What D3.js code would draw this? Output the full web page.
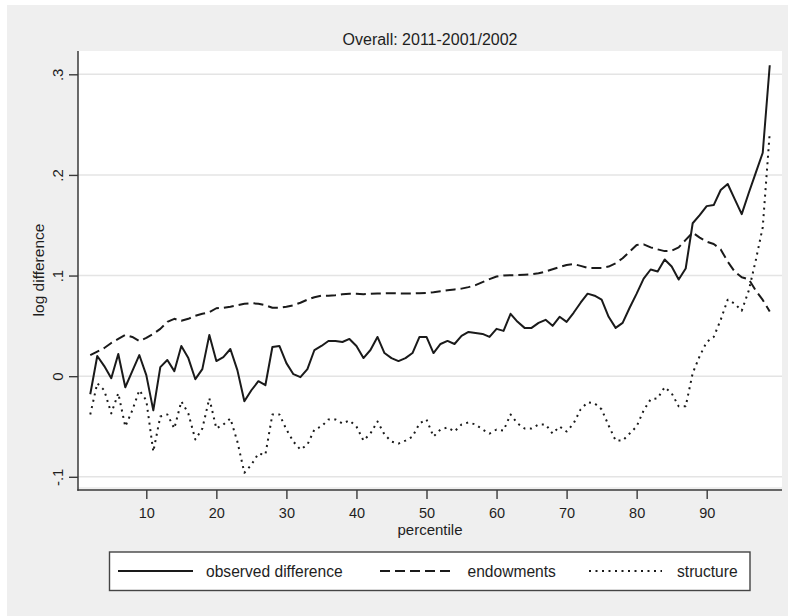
<!DOCTYPE html>
<html>
<head>
<meta charset="utf-8">
<script src="https://cdn.jsdelivr.net/npm/d3@7"></script>
<style>
  html, body { margin: 0; padding: 0; background: #ffffff; }
  svg { display: block; }
  text { font-family: "Liberation Sans", Arial, sans-serif; fill: #1e1e1e; }
</style>
</head>
<body>
<svg id="chart" width="788" height="616"></svg>
<script>
// Percentiles of the wage distribution
const percentiles = [2,3,4,5,6,7,8,9,10,11,12,13,14,15,16,17,18,19,20,21,22,23,24,25,26,27,28,29,30,
  31,32,33,34,35,36,37,38,39,40,41,42,43,44,45,46,47,48,49,50,51,52,53,54,55,56,57,58,59,60,
  61,62,63,64,65,66,67,68,69,70,71,72,73,74,75,76,77,78,79,80,81,82,83,84,85,86,87,88,89,90,
  91,92,93,94,95,96,97,98,99];

// Observed log difference at each percentile
const observed = [-0.018,0.020,0.010,-0.002,0.022,-0.011,0.005,0.021,0.001,-0.034,
  0.009,0.016,0.005,0.030,0.018,-0.003,0.007,0.041,0.015,0.019,
  0.027,0.006,-0.025,-0.014,-0.005,-0.009,0.029,0.030,0.013,0.002,
  -0.001,0.007,0.026,0.030,0.035,0.035,0.034,0.037,0.030,0.018,
  0.026,0.039,0.023,0.018,0.015,0.018,0.023,0.039,0.039,0.023,
  0.032,0.035,0.032,0.040,0.044,0.043,0.042,0.039,0.047,0.045,
  0.062,0.054,0.048,0.048,0.053,0.056,0.050,0.059,0.054,0.063,
  0.073,0.082,0.080,0.076,0.059,0.048,0.053,0.068,0.082,0.097,
  0.106,0.104,0.116,0.109,0.096,0.107,0.152,0.160,0.169,0.170,
  0.185,0.191,0.176,0.161,0.182,0.202,0.222,0.309];

// Part explained by characteristics
const endowments = [0.021,0.0245,0.028,0.033,0.037,0.041,0.039,0.035,0.038,0.042,
  0.047,0.054,0.057,0.055,0.057,0.060,0.062,0.0635,0.0675,0.068,
  0.069,0.0705,0.072,0.0725,0.072,0.0705,0.068,0.068,0.069,0.0705,
  0.073,0.076,0.0785,0.080,0.080,0.0805,0.0815,0.082,0.0818,0.0815,
  0.0818,0.0822,0.0823,0.0825,0.0823,0.0822,0.0822,0.0825,0.0828,0.0835,
  0.0845,0.0855,0.0862,0.087,0.0885,0.0905,0.0935,0.0965,0.099,0.100,
  0.1003,0.1005,0.1008,0.1012,0.1022,0.104,0.1062,0.1085,0.1105,0.1115,
  0.1096,0.1076,0.1076,0.1076,0.1089,0.1122,0.1172,0.1238,0.1304,0.131,
  0.128,0.126,0.1243,0.1247,0.128,0.1354,0.1427,0.1377,0.1337,0.1314,
  0.126,0.1138,0.1039,0.0983,0.0963,0.0851,0.0758,0.0642];

// Part due to returns (structure)
const structure = [-0.038,-0.007,-0.014,-0.037,-0.017,-0.050,-0.034,-0.014,-0.024,-0.075,
  -0.040,-0.038,-0.052,-0.025,-0.037,-0.063,-0.052,-0.022,-0.052,-0.048,
  -0.042,-0.065,-0.096,-0.088,-0.077,-0.078,-0.038,-0.038,-0.053,-0.065,
  -0.073,-0.068,-0.053,-0.050,-0.043,-0.043,-0.047,-0.044,-0.050,-0.064,
  -0.057,-0.045,-0.058,-0.065,-0.067,-0.064,-0.060,-0.047,-0.043,-0.060,
  -0.053,-0.051,-0.055,-0.048,-0.046,-0.048,-0.053,-0.057,-0.053,-0.054,
  -0.038,-0.047,-0.052,-0.052,-0.048,-0.048,-0.057,-0.050,-0.055,-0.047,
  -0.033,-0.026,-0.027,-0.033,-0.049,-0.064,-0.064,-0.057,-0.050,-0.034,
  -0.023,-0.022,-0.011,-0.017,-0.030,-0.030,0.003,0.020,0.034,0.039,
  0.056,0.076,0.072,0.065,0.085,0.115,0.148,0.242];

const yTicks = [-0.1, 0, 0.1, 0.2, 0.3];
const yTickLabels = ["-.1", "0", ".1", ".2", ".3"];
const xTicks = [10, 20, 30, 40, 50, 60, 70, 80, 90];

const titleText = "Overall: 2011-2001/2002";
const xTitle = "percentile";
const yTitle = "log difference";

const seriesNames = ["observed difference", "endowments", "structure"];
const seriesData = [observed, endowments, structure];
const seriesDash = [null, "10,5", "2,4.5"];

const svg = d3.select("#chart");
const ink = "#1a1a1a";
const axisInk = "#3a3a3a";

// Layout of the plot region
const plot = { left: 78, right: 782, top: 51, bottom: 487, axisY: 490 };

const x = d3.scaleLinear().domain([10, 90]).range([146.3, 706.7]);
const y = d3.scaleLinear().domain([-0.1, 0.3]).range([476.8, 74.3]);

// Outer graph background
svg.append("rect").attr("x", 7).attr("y", 5).attr("width", 781).attr("height", 611)
  .attr("fill", "#efefef");

// Plot region
svg.append("rect").attr("x", plot.left).attr("y", plot.top)
  .attr("width", plot.right - plot.left).attr("height", plot.bottom - plot.top)
  .attr("fill", "#ffffff");

// Horizontal grid lines
svg.append("g").selectAll("line").data(yTicks).join("line")
  .attr("x1", plot.left).attr("x2", plot.right)
  .attr("y1", d => y(d)).attr("y2", d => y(d))
  .attr("stroke", "#e4e4e4").attr("stroke-width", 1.6);

// Series lines
const line = d3.line().x((d, i) => x(percentiles[i])).y(d => y(d));
seriesData.forEach((vals, k) => {
  svg.append("path").datum(vals)
    .attr("d", line)
    .attr("fill", "none")
    .attr("stroke", ink)
    .attr("stroke-width", 2)
    .attr("stroke-linejoin", "round")
    .attr("stroke-dasharray", seriesDash[k]);
});

// Y axis
const yAxis = svg.append("g").attr("transform", `translate(${plot.left},0)`)
  .call(d3.axisLeft(y).tickValues(yTicks)
    .tickFormat((d, i) => yTickLabels[i]).tickSize(9).tickSizeOuter(0));
yAxis.select(".domain").remove();
yAxis.selectAll(".tick line").attr("stroke", axisInk).attr("stroke-width", 1.4);
yAxis.selectAll(".tick text")
  .attr("x", 0).attr("dy", null).attr("y", -14.7)
  .attr("transform", "rotate(-90)")
  .attr("text-anchor", "middle")
  .style("font-size", "15px")
  .style("font-family", "Liberation Sans, Arial, sans-serif")
  .attr("fill", ink);
svg.append("line").attr("x1", plot.left).attr("x2", plot.left)
  .attr("y1", plot.top).attr("y2", plot.axisY + 0.7)
  .attr("stroke", axisInk).attr("stroke-width", 1.5);

// X axis
const xAxis = svg.append("g").attr("transform", `translate(0,${plot.axisY})`)
  .call(d3.axisBottom(x).tickValues(xTicks).tickSize(9).tickSizeOuter(0).tickPadding(0));
xAxis.select(".domain").remove();
xAxis.selectAll(".tick line").attr("stroke", axisInk).attr("stroke-width", 1.4);
xAxis.selectAll(".tick text")
  .attr("y", 27.5).attr("dy", null)
  .style("font-size", "14.5px")
  .style("font-family", "Liberation Sans, Arial, sans-serif")
  .attr("fill", ink);
svg.append("line").attr("x1", plot.left - 0.7).attr("x2", plot.right)
  .attr("y1", plot.axisY).attr("y2", plot.axisY)
  .attr("stroke", axisInk).attr("stroke-width", 1.5);

// Titles
svg.append("text").attr("x", 430).attr("y", 44.5).attr("text-anchor", "middle")
  .style("font-size", "16px").text(titleText);
svg.append("text").attr("x", 430).attr("y", 535).attr("text-anchor", "middle")
  .style("font-size", "15px").text(xTitle);
svg.append("text").attr("transform", "translate(43.5,270) rotate(-90)")
  .attr("text-anchor", "middle").style("font-size", "15.5px").text(yTitle);

// Legend
const legend = { x: 109.5, y: 552, w: 640.5, h: 38.5, cy: 571 };
svg.append("rect").attr("x", legend.x).attr("y", legend.y)
  .attr("width", legend.w).attr("height", legend.h)
  .attr("fill", "#ffffff").attr("stroke", "#444444").attr("stroke-width", 1.4);
const legendKeys = [
  { x1: 118, x2: 193, tx: 206 },
  { x1: 380, x2: 455, tx: 467.5 },
  { x1: 589, x2: 662, tx: 677 }
];
legendKeys.forEach((k, i) => {
  svg.append("line").attr("x1", k.x1).attr("x2", k.x2)
    .attr("y1", legend.cy).attr("y2", legend.cy)
    .attr("stroke", ink).attr("stroke-width", 2)
    .attr("stroke-dasharray", seriesDash[i]);
  svg.append("text").attr("x", k.tx).attr("y", legend.cy + 5.5)
    .style("font-size", "15.6px").text(seriesNames[i]);
});
</script>
</body>
</html>
